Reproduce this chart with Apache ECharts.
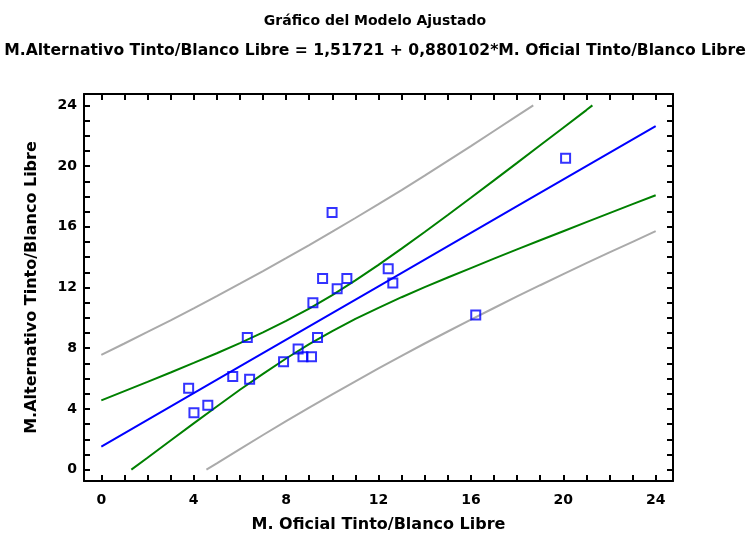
<!DOCTYPE html>
<html>
<head>
<meta charset="utf-8">
<script src="https://cdn.jsdelivr.net/npm/echarts@6/dist/echarts.min.js"></script>
<style>html,body{margin:0;padding:0;background:#fff}#c{width:750px;height:538px}</style>
</head>
<body>
<div id="c"></div>
<script>
const titleLine1 = 'Gráfico del Modelo Ajustado';
const titleLine2 = 'M.Alternativo Tinto/Blanco Libre = 1,51721 + 0,880102*M. Oficial Tinto/Blanco Libre';
const xName = 'M. Oficial Tinto/Blanco Libre';
const yName = 'M.Alternativo Tinto/Blanco Libre';
const tickLabels = [0, 4, 8, 12, 16, 20, 24];
const minorTicks = [0,1,2,3,4,5,6,7,8,9,10,11,12,13,14,15,16,17,18,19,20,21,22,23,24];

// observed points [x, y]
const observed = [
  [3.78, 5.36], [4.01, 3.75], [4.61, 4.24], [5.69, 6.13], [6.42, 5.96],
  [6.32, 8.71], [7.89, 7.10], [8.52, 7.94], [8.73, 7.43], [9.10, 7.43],
  [9.36, 8.71], [9.16, 10.99], [9.58, 12.60], [9.99, 16.94], [10.21, 11.91],
  [10.63, 12.60], [12.42, 13.24], [12.62, 12.29], [16.21, 10.19], [20.10, 20.52]
];
// fitted line
const fitted = [[0, 1.52], [6, 6.80], [12, 12.08], [18, 17.36], [24, 22.64]];
// confidence limits (green)
const confUpper = [[0, 4.56], [1, 5.17], [2, 5.78], [3, 6.40], [4, 7.03], [5, 7.67], [6, 8.34], [7, 9.04], [8, 9.80], [9, 10.61], [10, 11.50], [11, 12.47], [12, 13.49], [13, 14.56], [14, 15.66], [15, 16.78], [16, 17.91], [17, 19.06], [18, 20.21], [19, 21.37], [20, 22.53], [21, 23.69], [21.26, 24.0]];
const confLower = [[1.3, 0], [2, 0.78], [3, 1.92], [4, 3.05], [5, 4.16], [6, 5.26], [7, 6.31], [8, 7.32], [9, 8.27], [10, 9.13], [11, 9.93], [12, 10.66], [13, 11.36], [14, 12.02], [15, 12.66], [16, 13.28], [17, 13.90], [18, 14.51], [19, 15.11], [20, 15.71], [21, 16.31], [22, 16.90], [23, 17.49], [24, 18.08]];
// prediction limits (gray)
const predUpper = [[0, 7.56], [1, 8.31], [2, 9.07], [3, 9.84], [4, 10.63], [5, 11.43], [6, 12.25], [7, 13.08], [8, 13.93], [9, 14.79], [10, 15.68], [11, 16.58], [12, 17.49], [13, 18.42], [14, 19.37], [15, 20.34], [16, 21.31], [17, 22.31], [18, 23.31], [18.7, 24.0]];
const predLower = [[4.55, 0], [5, 0.41], [6, 1.35], [7, 2.28], [8, 3.19], [9, 4.08], [10, 4.96], [11, 5.82], [12, 6.67], [13, 7.49], [14, 8.31], [15, 9.10], [16, 9.88], [17, 10.65], [18, 11.41], [19, 12.15], [20, 12.88], [21, 13.60], [22, 14.31], [23, 15.01], [24, 15.71]];

const FONT = '"DejaVu Sans", sans-serif';
const axisMin = -0.75, axisMax = 24.75;

function mkAxis(pos, withLabels, isX) {
  return {
    type: 'value', position: pos, min: axisMin, max: axisMax,
    splitLine: {show: false},
    axisLine: {show: true, onZero: false, lineStyle: {color: '#000', width: 2}},
    axisTick: {show: true, inside: true, length: 6, lineStyle: {color: '#000', width: 2}, customValues: minorTicks},
    axisLabel: {show: withLabels, customValues: tickLabels, color: '#000', fontFamily: FONT, fontWeight: 'bold', fontSize: 14, margin: isX ? 12 : 7},
    name: withLabels ? (isX ? xName : yName) : '',
    nameLocation: 'middle',
    nameGap: isX ? 36 : 44,
    nameTextStyle: {color: '#000', fontFamily: FONT, fontWeight: 'bold', fontSize: 16}
  };
}

function lineSeries(data, color, z) {
  return {type: 'line', data: data, showSymbol: false, symbol: 'none', lineStyle: {color: color, width: 2}, z: z, animation: false, silent: true};
}

const chart = echarts.init(document.getElementById('c'), null, {renderer: 'canvas'});
chart.setOption({
  animation: false,
  backgroundColor: '#fff',
  title: [
    {text: titleLine1, left: 'center', top: 9, textStyle: {color: '#000', fontFamily: FONT, fontWeight: 'bold', fontSize: 14}},
    {text: titleLine2, left: 'center', top: 38, textStyle: {color: '#000', fontFamily: FONT, fontWeight: 'bold', fontSize: 15.6}}
  ],
  grid: {left: 84, top: 94, right: 77, bottom: 56, containLabel: false},
  xAxis: [mkAxis('bottom', true, true), mkAxis('top', false, true)],
  yAxis: [mkAxis('left', true, false), mkAxis('right', false, false)],
  series: [
    lineSeries(predUpper, '#AAAAAA', 2),
    lineSeries(predLower, '#AAAAAA', 2),
    lineSeries(confUpper, '#008000', 3),
    lineSeries(confLower, '#008000', 3),
    lineSeries(fitted, '#0000FF', 4),
    {type: 'scatter', data: observed, symbol: 'rect', symbolSize: 9, z: 5,
     itemStyle: {color: 'rgba(0,0,0,0)', borderColor: '#0000FF', borderWidth: 2}}
  ]
});
</script>
</body>
</html>
